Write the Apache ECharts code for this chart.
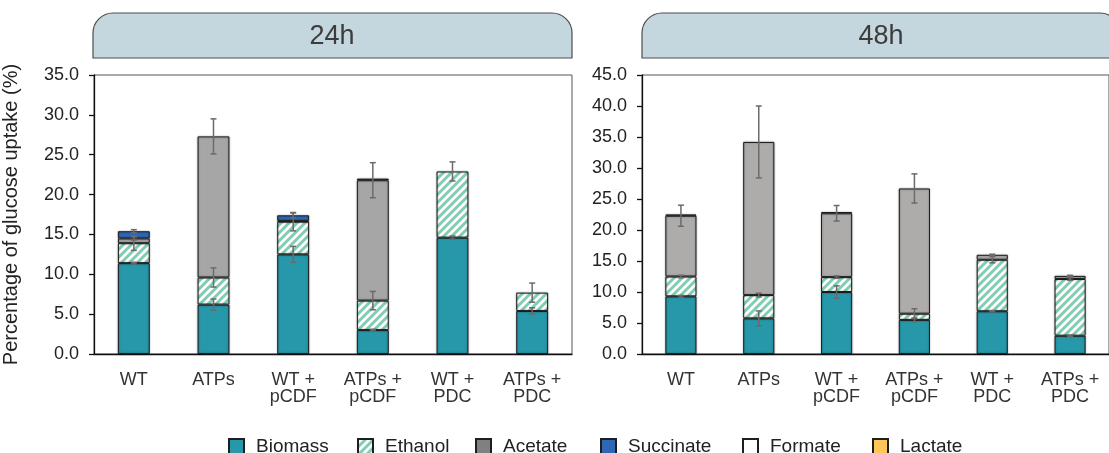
<!DOCTYPE html>
<html>
<head>
<meta charset="utf-8">
<script src="https://cdn.jsdelivr.net/npm/echarts@6/dist/echarts.min.js"></script>
<style>
  html, body { margin: 0; padding: 0; background: #fff; }
  #chart { width: 1109px; height: 453px; }
</style>
</head>
<body>
<div id="chart"></div>
<script>
// Strains on the x axis (same for both time points)
const strains = ['WT', 'ATPs', 'WT +\npCDF', 'ATPs +\npCDF', 'WT +\nPDC', 'ATPs +\nPDC'];
const components = ['Biomass', 'Ethanol', 'Acetate', 'Succinate', 'Formate', 'Lactate'];
const panelTitles = ['24h', '48h'];

// 24h: share of glucose uptake per product (%), one entry per strain
const biomass24   = [11.4, 6.2, 12.5, 3.0, 14.6, 5.4];
const ethanol24   = [2.5, 3.4, 4.1, 3.7, 8.3, 2.3];
const acetate24   = [0.6, 17.7, 0.1, 15.1, 0, 0];
const succinate24 = [0.9, 0, 0.7, 0.2, 0, 0];
const formate24   = [0, 0, 0, 0, 0, 0];
const lactate24   = [0, 0, 0, 0, 0, 0];

// 24h: standard deviations of each product
const biomassErr24   = [0.1, 0.7, 1.0, 0.1, 0.2, 0.4];
const ethanolErr24   = [0.9, 1.2, 1.15, 1.15, 1.2, 1.2];
const acetateErr24   = [0.2, 2.2, 0, 2.2, 0, 0];
const succinateErr24 = [0.2, 0, 0.3, 0, 0, 0];

// 48h: share of glucose uptake per product (%)
const biomass48   = [9.3, 5.75, 10.0, 5.5, 6.9, 2.95];
const ethanol48   = [3.2, 3.75, 2.4, 1.0, 8.3, 9.15];
const acetate48   = [9.8, 24.7, 10.3, 20.2, 0.8, 0.5];
const succinate48 = [0.2, 0, 0.2, 0, 0, 0];
const formate48   = [0, 0, 0, 0, 0, 0];
const lactate48   = [0, 0, 0, 0, 0, 0];

// 48h: standard deviations
const biomassErr48   = [0.15, 1.2, 1.0, 0.3, 0.1, 0.1];
const ethanolErr48   = [0.2, 0.3, 0.2, 0.8, 0.5, 0.2];
const acetateErr48   = [1.7, 5.8, 1.25, 2.35, 0.1, 0.1];
const succinateErr48 = [0, 0, 0, 0, 0, 0];

// y axis ranges
const yMax24 = 35, yMax48 = 45, yStep = 5;

const FONT = "'Liberation Sans', Arial, Helvetica, sans-serif";

// diagonal hatch used for ethanol
function hatchPattern() {
  const c = document.createElement('canvas');
  c.width = 8; c.height = 8;
  const g = c.getContext('2d');
  g.fillStyle = '#ffffff';
  g.fillRect(0, 0, 8, 8);
  g.strokeStyle = '#80ceb1';
  g.lineWidth = 3;
  g.beginPath();
  g.moveTo(-2, 10); g.lineTo(10, -2);
  g.moveTo(-2, 2); g.lineTo(2, -2);
  g.moveTo(6, 10); g.lineTo(10, 6);
  g.stroke();
  return c;
}
const hatch = { image: hatchPattern(), repeat: 'repeat' };

const panels = [
  { stack: 's24', acetateColor: '#a6a6a6',
    values: [biomass24, ethanol24, acetate24, succinate24, formate24, lactate24],
    errors: [biomassErr24, ethanolErr24, acetateErr24, succinateErr24, null, null] },
  { stack: 's48', acetateColor: '#aeabab',
    values: [biomass48, ethanol48, acetate48, succinate48, formate48, lactate48],
    errors: [biomassErr48, ethanolErr48, acetateErr48, succinateErr48, null, null] }
];

function colorFor(name, panel) {
  switch (name) {
    case 'Biomass': return '#2797aa';
    case 'Ethanol': return hatch;
    case 'Acetate': return panel.acetateColor;
    case 'Succinate': return '#2d67b6';
    case 'Formate': return '#ffffff';
    case 'Lactate': return '#ffc65c';
  }
}

const series = [];
panels.forEach((panel, pi) => {
  components.forEach((name, ci) => {
    series.push({
      name: name,
      type: 'bar',
      stack: panel.stack,
      xAxisIndex: pi,
      yAxisIndex: pi,
      barWidth: '40%',
      itemStyle: { color: colorFor(name, panel), borderColor: '#1e1e1e', borderWidth: 1,
                   shadowColor: 'rgba(0,0,0,0.35)', shadowBlur: 2 },
      emphasis: { disabled: true },
      data: panel.values[ci].map(v => (v > 0 ? v : null))
    });
  });

  // error bars sit on the top of each stacked segment
  const rows = [];
  strains.forEach((s, k) => {
    let top = 0;
    components.forEach((name, ci) => {
      const v = panel.values[ci][k];
      top += v;
      const errs = panel.errors[ci];
      if (v > 0 && errs && errs[k] > 0) rows.push([k, top, errs[k]]);
    });
  });
  series.push({
    type: 'custom',
    xAxisIndex: pi,
    yAxisIndex: pi,
    z: 10,
    silent: true,
    data: rows,
    renderItem: function (params, api) {
      const x = api.value(0), v = api.value(1), e = api.value(2);
      const hi = api.coord([x, v + e]);
      const lo = api.coord([x, v - e]);
      const w = 3;
      const st = { stroke: '#6b6b6b', lineWidth: 1.5 };
      return {
        type: 'group',
        children: [
          { type: 'line', shape: { x1: hi[0], y1: hi[1], x2: lo[0], y2: lo[1] }, style: st },
          { type: 'line', shape: { x1: hi[0] - w, y1: hi[1], x2: hi[0] + w, y2: hi[1] }, style: st },
          { type: 'line', shape: { x1: lo[0] - w, y1: lo[1], x2: lo[0] + w, y2: lo[1] }, style: st }
        ]
      };
    }
  });
});

const grids = [
  { left: 93, top: 75, width: 479, height: 279 },
  { left: 642, top: 75, width: 478, height: 279 }
];

const axisLineStyle = { color: '#111', width: 1.3 };

const xAxes = grids.map((g, i) => ({
  type: 'category',
  gridIndex: i,
  data: strains,
  axisLine: { lineStyle: axisLineStyle },
  axisTick: { alignWithLabel: true, length: 5, lineStyle: axisLineStyle },
  axisLabel: { fontSize: 18, lineHeight: 17, color: '#333', margin: 18, fontFamily: FONT, interval: 0 }
}));

const yAxes = [yMax24, yMax48].map((mx, i) => ({
  type: 'value',
  gridIndex: i,
  min: 0,
  max: mx,
  interval: yStep,
  name: i === 0 ? 'Percentage of glucose uptake (%)' : '',
  nameLocation: 'middle',
  nameGap: 73,
  nameTextStyle: { fontSize: 20, color: '#222', fontFamily: FONT },
  axisLine: { show: true, lineStyle: axisLineStyle },
  axisTick: { show: true, length: 5, lineStyle: axisLineStyle },
  splitLine: { show: false },
  axisLabel: { fontSize: 18, color: '#222', margin: 15, fontFamily: FONT,
               formatter: v => v.toFixed(1) }
}));

// facet header strips with rounded top corners
const graphics = [];
grids.forEach((g, i) => {
  graphics.push({
    type: 'rect',
    shape: { x: g.left, y: 13, width: g.width, height: 45, r: [20, 20, 0, 0] },
    style: { fill: '#c5d7de', stroke: '#4d4d4d', lineWidth: 1.2 },
    z: 5
  });
  graphics.push({
    type: 'text',
    style: { text: panelTitles[i], x: g.left + 239, y: 37, textAlign: 'center',
             textVerticalAlign: 'middle', font: '27px ' + FONT, fill: '#3c3c3c' },
    z: 6
  });
});

// one legend entry per product, laid out along the bottom
const legendLeft = [228, 357, 475, 600, 742, 872];
const legends = components.map((name, i) => ({
  data: [name === 'Acetate' ? { name, itemStyle: { color: '#808080' } } : { name }],
  left: legendLeft[i],
  top: 437,
  padding: 0,
  itemWidth: 15,
  itemHeight: 15,
  selectedMode: false,
  icon: 'rect',
  textStyle: { fontSize: 19, lineHeight: 19, color: '#222', fontFamily: FONT, padding: [0, 0, 0, 7] }
}));

const chart = echarts.init(document.getElementById('chart'), null, { renderer: 'canvas' });
chart.setOption({
  animation: false,
  textStyle: { fontFamily: FONT },
  grid: grids.map(g => Object.assign({ show: true, borderColor: '#555', borderWidth: 1,
                                        backgroundColor: 'transparent' }, g)),
  xAxis: xAxes,
  yAxis: yAxes,
  legend: legends,
  graphic: graphics,
  series: series
});
</script>
</body>
</html>
